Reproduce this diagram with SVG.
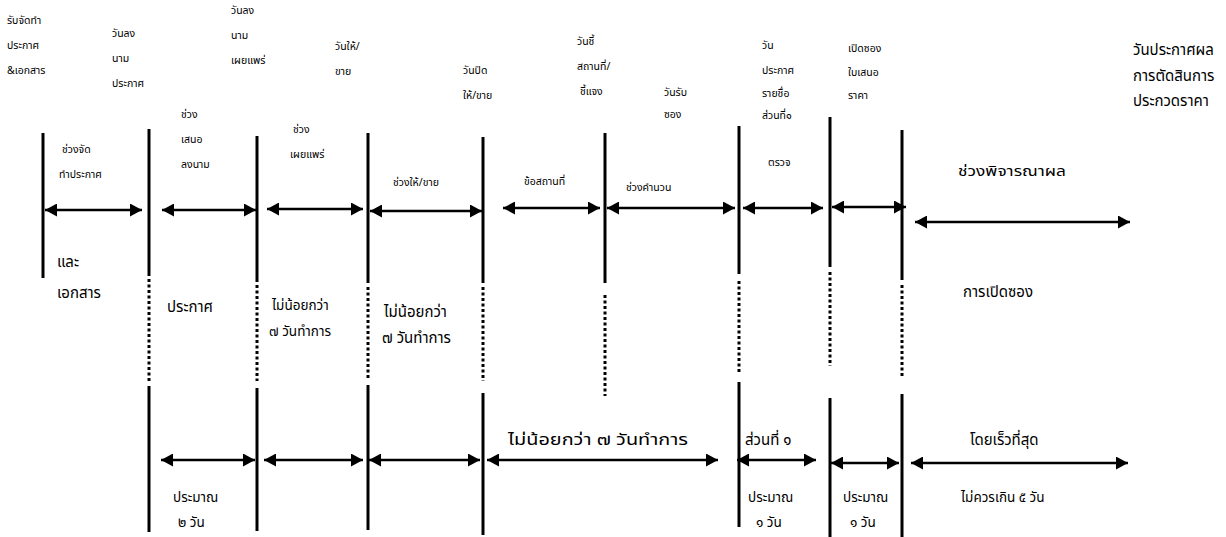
<svg xmlns="http://www.w3.org/2000/svg" width="1226" height="537" viewBox="0 0 1226 537">
<style>
text{font-family:"Noto Sans Thai","Noto Sans Thai UI","Noto Sans","DejaVu Sans",sans-serif;fill:#000}
.s{font-size:10.5px}
.m{font-size:13.5px}
.l{font-size:15px}
.v{stroke:#000;stroke-width:3;fill:none}
.d{stroke:#000;stroke-width:3;fill:none;stroke-dasharray:3 2.5}
.a{stroke:#000;stroke-width:2.5;fill:none;marker-start:url(#ah);marker-end:url(#ah)}
</style>
<defs>
<marker id="ah" viewBox="0 0 12 13" refX="12" refY="6.5" markerWidth="12" markerHeight="13" markerUnits="userSpaceOnUse" orient="auto-start-reverse">
<path d="M0,0 L12,6.5 L0,13 z" fill="#000"/>
</marker>
</defs>
<rect width="1226" height="537" fill="#fff"/>

<g id="timelines">
<line class="v" x1="43" y1="133" x2="43" y2="278"/>
<line class="v" x1="149" y1="129" x2="149" y2="276"/><line class="d" x1="149" y1="279" x2="149" y2="382"/><line class="v" x1="149" y1="386" x2="149" y2="532"/>
<line class="v" x1="257" y1="136" x2="257" y2="282"/><line class="d" x1="257" y1="285" x2="257" y2="381"/><line class="v" x1="257" y1="388" x2="257" y2="531"/>
<line class="v" x1="368" y1="133" x2="368" y2="283"/><line class="d" x1="368" y1="287" x2="368" y2="379"/><line class="v" x1="368" y1="385" x2="368" y2="530"/>
<line class="v" x1="483" y1="137" x2="483" y2="283"/><line class="d" x1="483" y1="287" x2="483" y2="381"/><line class="v" x1="483" y1="393" x2="483" y2="535"/>
<line class="v" x1="605" y1="133" x2="605" y2="283"/><line class="d" x1="605" y1="295" x2="605" y2="396"/>
<line class="v" x1="739" y1="126" x2="739" y2="274"/><line class="d" x1="739" y1="281" x2="739" y2="374"/><line class="v" x1="739" y1="382" x2="739" y2="527"/>
<line class="v" x1="830" y1="117" x2="830" y2="267"/><line class="d" x1="830" y1="272" x2="830" y2="366"/><line class="v" x1="830" y1="398" x2="830" y2="537"/>
<line class="v" x1="902" y1="130" x2="902" y2="280"/><line class="d" x1="902" y1="285" x2="902" y2="376"/><line class="v" x1="902" y1="394" x2="902" y2="537"/>
</g>

<g id="connectors">
<line class="a" x1="45" y1="210" x2="142" y2="210"/>
<line class="a" x1="162" y1="210" x2="256" y2="210"/>
<line class="a" x1="267" y1="209" x2="363" y2="209"/>
<line class="a" x1="370" y1="211" x2="482" y2="211"/>
<line class="a" x1="503" y1="208" x2="600" y2="208"/>
<line class="a" x1="607" y1="208" x2="735" y2="208"/>
<line class="a" x1="743" y1="208" x2="823" y2="208"/>
<line class="a" x1="832" y1="207" x2="906" y2="207"/>
<line class="a" x1="915" y1="222" x2="1130" y2="222"/>
<line class="a" x1="161" y1="460" x2="255" y2="460"/>
<line class="a" x1="264" y1="460" x2="363" y2="460"/>
<line class="a" x1="369" y1="460" x2="480" y2="460"/>
<line class="a" x1="487" y1="460" x2="718" y2="460"/>
<line class="a" x1="737" y1="460" x2="816" y2="460"/>
<line class="a" x1="831" y1="463" x2="899" y2="463"/>
<line class="a" x1="911" y1="463" x2="1128" y2="463"/>
</g>

<g id="milestone-labels">
<text class="s" x="7" y="24">รับจัดทำ</text><text class="s" x="7" y="49">ประกาศ</text><text class="s" x="7" y="74">&amp;เอกสาร</text>
<text class="s" x="112" y="37">วันลง</text><text class="s" x="112" y="62">นาม</text><text class="s" x="112" y="87">ประกาศ</text>
<text class="s" x="231" y="14">วันลง</text><text class="s" x="231" y="39">นาม</text><text class="s" x="231" y="64">เผยแพร่</text>
<text class="s" x="335" y="50">วันให้/</text><text class="s" x="335" y="75">ขาย</text>
<text class="s" x="463" y="74">วันปิด</text><text class="s" x="463" y="99">ให้/ขาย</text>
<text class="s" x="577" y="45">วันชี้</text><text class="s" x="577" y="70">สถานที่/</text><text class="s" x="580" y="95">ชี้แจง</text>
<text class="s" x="664" y="96">วันรับ</text><text class="s" x="664" y="118">ซอง</text>
<text class="s" x="762" y="49">วัน</text><text class="s" x="762" y="74">ประกาศ</text><text class="s" x="762" y="97">รายชื่อ</text><text class="s" x="762" y="119">ส่วนที่๑</text>
<text class="s" x="848" y="52">เปิดซอง</text><text class="s" x="848" y="76">ใบเสนอ</text><text class="s" x="848" y="99">ราคา</text>
<text class="l" x="1133" y="55">วันประกาศผล</text><text class="l" x="1133" y="81">การตัดสินการ</text><text class="l" x="1133" y="106">ประกวดราคา</text>
</g>

<g id="period-labels">
<text class="s" x="62" y="153">ช่วงจัด</text><text class="s" x="59" y="178">ทำประกาศ</text>
<text class="s" x="181" y="118">ช่วง</text><text class="s" x="181" y="143">เสนอ</text><text class="s" x="181" y="168">ลงนาม</text>
<text class="s" x="293" y="133">ช่วง</text><text class="s" x="290" y="158">เผยแพร่</text>
<text class="s" x="393" y="186">ช่วงให้/ขาย</text>
<text class="s" x="524" y="185">ข้อสถานที่</text>
<text class="s" x="626" y="191">ช่วงคำนวน</text>
<text class="s" x="768" y="166">ตรวจ</text>
<text class="m" x="958" y="176" textLength="108" lengthAdjust="spacingAndGlyphs">ช่วงพิจารณาผล</text>
</g>

<g id="middle-labels">
<text class="l" x="57" y="267">และ</text><text class="l" x="57" y="298">เอกสาร</text>
<text class="l" x="167" y="312">ประกาศ</text>
<text class="m" x="272" y="310">ไม่น้อยกว่า</text><text class="m" x="269" y="336">๗ วันทำการ</text>
<text class="l" x="384" y="317">ไม่น้อยกว่า</text><text class="l" x="382" y="343">๗ วันทำการ</text>
<text class="l" x="963" y="297">การเปิดซอง</text>
</g>

<g id="lower-labels">
<text class="l" x="508" y="445" textLength="180" lengthAdjust="spacingAndGlyphs">ไม่น้อยกว่า ๗ วันทำการ</text>
<text class="l" x="745" y="445">ส่วนที่ ๑</text>
<text class="l" x="970" y="445">โดยเร็วที่สุด</text>
<text class="m" x="173" y="502">ประมาณ</text><text class="m" x="178" y="527">๒ วัน</text>
<text class="m" x="748" y="502">ประมาณ</text><text class="m" x="756" y="527">๑ วัน</text>
<text class="m" x="843" y="502">ประมาณ</text><text class="m" x="850" y="527">๑ วัน</text>
<text class="m" x="961" y="502">ไม่ควรเกิน ๕ วัน</text>
</g>
</svg>
